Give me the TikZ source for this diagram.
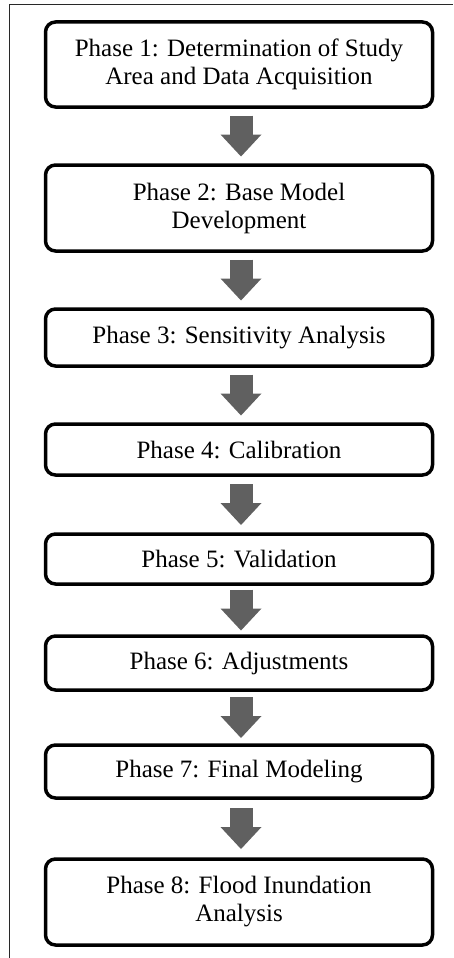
\documentclass[tikz,border=0pt]{standalone}
\usepackage{fontspec}
\setmainfont{Liberation Serif}
\usetikzlibrary{arrows.meta,calc}
\definecolor{arrowgray}{RGB}{96,96,96}
\definecolor{framegray}{RGB}{40,40,40}
\begin{document}
\begin{tikzpicture}[x=1pt,y=-1pt,
  phasebox/.style={draw=black, line width=3.5pt, rounded corners=10pt,
    minimum width=387pt, align=center, inner sep=0pt, fill=white,
    font=\fontsize{25}{28}\selectfont},
  flowarrow/.style={draw=arrowgray, line width=23pt, line cap=butt,
    -{Triangle[width=41pt,length=22pt,line width=0pt]}}]
\useasboundingbox (0,0) rectangle (453,958);
\draw[framegray, line width=1.6pt] (9.5,958) -- (9.5,4.5) -- (453,4.5);

\node[phasebox, minimum height=85pt] (b1) at (239,64.5) {Phase 1: Determination of Study\\Area and Data Acquisition};
\node[phasebox, minimum height=86pt] (b2) at (239,208) {Phase 2: Base Model\\Development};
\node[phasebox, minimum height=57pt] (b3) at (239,337.5) {Phase 3: Sensitivity Analysis};
\node[phasebox, minimum height=51pt] (b4) at (239,449.5) {Phase 4: Calibration};
\node[phasebox, minimum height=50pt] (b5) at (239,559) {Phase 5: Validation};
\node[phasebox, minimum height=54pt] (b6) at (239,663) {Phase 6: Adjustments};
\node[phasebox, minimum height=53pt] (b7) at (239,771.5) {Phase 7: Final Modeling};
\node[phasebox, minimum height=86pt] (b8) at (239,902) {Phase 8: Flood Inundation\\Analysis};

\foreach \a/\b in {b1/b2,b2/b3,b3/b4,b4/b5,b5/b6,b6/b7,b7/b8}{
  \draw[flowarrow] ($(\a.south)!.5!(\b.north)+(2,-20.5)$) -- ($(\a.south)!.5!(\b.north)+(2,20.5)$);
}
\end{tikzpicture}
\end{document}
